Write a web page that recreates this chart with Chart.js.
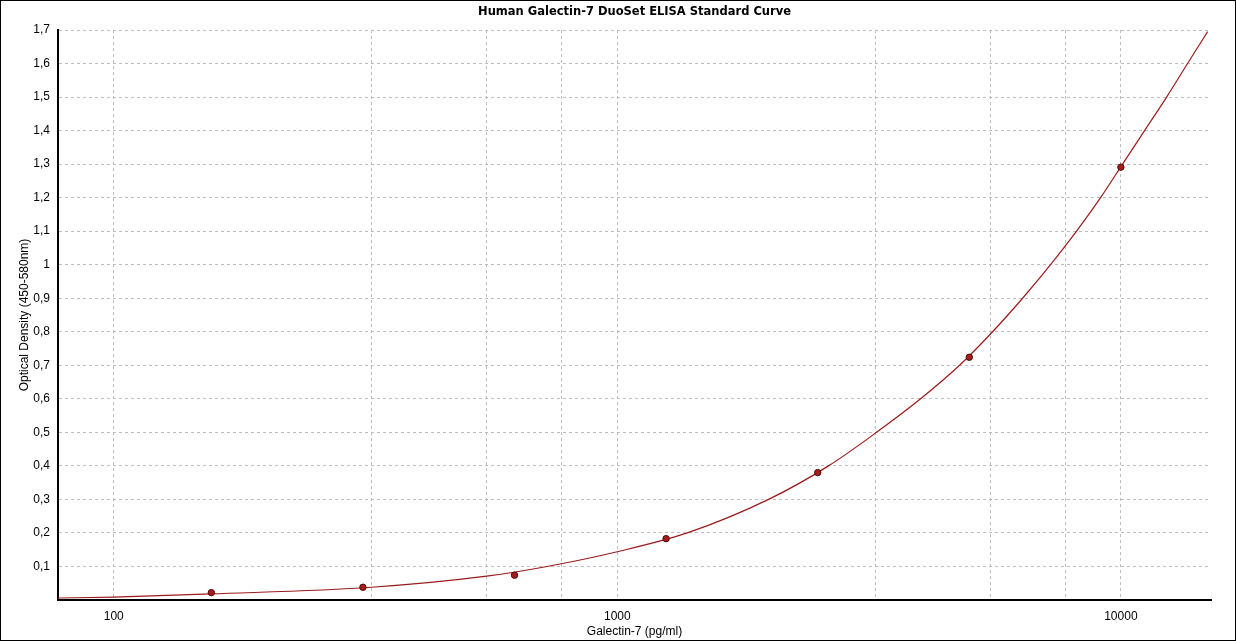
<!DOCTYPE html>
<html>
<head>
<meta charset="utf-8">
<script src="https://cdn.jsdelivr.net/npm/chart.js@4/dist/chart.umd.min.js"></script>
<style>
  body { margin: 0; background: #fff; }
  #wrap { position: relative; width: 1236px; height: 641px; }
  #frame { position: absolute; left: 0; top: 0; width: 1234px; height: 639px; border: 1px solid #000; pointer-events: none; }
</style>
</head>
<body>
<div id="wrap">
  <canvas id="chart" width="1236" height="641"></canvas>
  <div id="frame"></div>
</div>
<script>
// standards (pg/ml) and measured OD
const stdConc = [156.25, 312.5, 625, 1250, 2500, 5000, 10000];
const stdOD = [0.022, 0.038, 0.074, 0.183, 0.380, 0.724, 1.291];

// fitted curve
const curveConc = [77.5, 100, 156, 325, 550, 725, 1000, 1377, 1997, 2627, 3272, 4002, 4783, 5562, 6380, 7251, 8166, 9114, 10078, 11145, 12327, 13565, 14869];
const curveOD = [0.006, 0.0085, 0.018, 0.038, 0.071, 0.1, 0.144, 0.2, 0.3, 0.4, 0.5, 0.6, 0.7, 0.8, 0.9, 1.0, 1.1, 1.2, 1.3, 1.4, 1.5, 1.6, 1.695];

// x grid lines and the ones that get a label
const xGridTicks = [100, 325, 550, 775, 1000, 3250, 5500, 7750, 10000];
const xLabelTicks = [100, 1000, 10000];

const chartTitle = "Human Galectin-7 DuoSet ELISA Standard Curve";
const tickFont = { family: "Liberation Sans", size: 12 };

// title centred over the plot area, like the original
const titlePlugin = {
    id: "plotTitle",
    afterDraw(chart) {
        const c = chart.ctx;
        const area = chart.chartArea;
        c.save();
        c.fillStyle = "#000";
        c.font = "bold 11.5px 'DejaVu Sans'";
        c.textAlign = "center";
        c.textBaseline = "middle";
        c.fillText(chartTitle, (area.left + area.right) / 2, 12.5);
        c.restore();
    }
};

const ctx = document.getElementById("chart");
const chart = new Chart(ctx, {
    type: "scatter",
    data: {
        datasets: [
            {
                label: "Curve",
                data: curveConc.map((c, i) => ({ x: c, y: curveOD[i] })),
                showLine: true,
                borderColor: "#9b1b1b",
                borderWidth: 1.2,
                pointRadius: 0,
                cubicInterpolationMode: "monotone",
                order: 2
            },
            {
                label: "Standards",
                data: stdConc.map((c, i) => ({ x: c, y: stdOD[i] })),
                showLine: false,
                pointStyle: "circle",
                pointRadius: 3.2,
                backgroundColor: "#a81c1c",
                borderColor: "#4a0808",
                borderWidth: 1,
                order: 1
            }
        ]
    },
    plugins: [titlePlugin],
    options: {
        responsive: false,
        animation: false,
        devicePixelRatio: 1,
        layout: { padding: { left: 0, right: 25, top: 30, bottom: 0 } },
        plugins: {
            legend: { display: false },
            tooltip: { enabled: false },
            title: { display: false }
        },
        scales: {
            x: {
                type: "logarithmic",
                min: 77.5,
                max: 15100,
                afterBuildTicks: function(scale) {
                    scale.ticks = xGridTicks.map(v => ({ value: v }));
                },
                afterFit: function(scale) { scale.height = 41; },
                ticks: {
                    autoSkip: false,
                    maxRotation: 0,
                    color: "#000",
                    font: tickFont,
                    padding: 9,
                    callback: function(value) {
                        return xLabelTicks.includes(value) ? String(value) : "";
                    }
                },
                grid: { color: "#bdbdbd", lineWidth: 1, drawTicks: false },
                border: { display: true, color: "#000", width: 2, dash: [3, 3] },
                title: {
                    display: true,
                    text: "Galectin-7 (pg/ml)",
                    color: "#000",
                    font: tickFont,
                    padding: { top: 0, bottom: 2 }
                }
            },
            y: {
                min: 0,
                max: 1.7,
                afterFit: function(scale) { scale.width = 58; },
                ticks: {
                    stepSize: 0.1,
                    color: "#000",
                    font: tickFont,
                    padding: 8,
                    callback: function(value) {
                        if (value === 0) return "";
                        return String(Number(value.toFixed(1))).replace(".", ",");
                    }
                },
                grid: { color: "#bdbdbd", lineWidth: 1, drawTicks: false },
                border: { display: true, color: "#000", width: 2, dash: [3, 3] },
                title: {
                    display: true,
                    text: "Optical Density (450-580nm)",
                    color: "#000",
                    font: tickFont,
                    padding: { top: 17, bottom: 0 }
                }
            }
        }
    }
});
</script>
</body>
</html>
